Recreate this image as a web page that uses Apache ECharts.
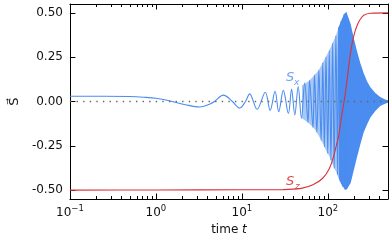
<!DOCTYPE html>
<html><head><meta charset="utf-8">
<script src="https://cdn.jsdelivr.net/npm/echarts@6/dist/echarts.min.js"></script>
<style>html,body{margin:0;padding:0;background:#fff}#c{width:390px;height:241px}</style>
</head><body><div id="c"></div>
<script>
// S_x: extrema / sample points
const sxT = [0.1,0.25,0.5,0.72,1.0,1.46,2.2,3.23,4.2,4.79,6.08,7.76,9.41,11.0,12.3,15.0,18.7,21.3,24.3,26.8,30.3,34.7,37.8,41.2,45.1,49.2,53.7,58.7,61.2,67.0,69.8,74.4,78.5,83.4,87.2,91.0,95.1,99.5,103.8,108.5,113.5,118.4,123.9,129.5,132.9,138.7,142.5,147.9,154.2,158.2,164.1,168.6];
const sxV = [0.030,0.030,0.028,0.024,0.018,0.003,-0.018,-0.031,-0.015,0.0,0.036,0.0,-0.037,0.0,0.043,-0.044,0.052,-0.050,0.058,-0.058,0.063,-0.068,0.070,-0.076,0.085,-0.094,0.104,-0.118,0.119,-0.146,0.150,-0.174,0.178,-0.220,0.219,-0.257,0.252,-0.294,0.289,-0.331,0.330,-0.378,0.372,-0.414,0.419,-0.452,0.456,-0.480,0.493,-0.498,0.502,-0.489];
// light fill between densely packed oscillations
const lightT  = [50,61,70,78.5,87,95,104,113.5,124,133];
const lightUp = [0.09,0.119,0.150,0.178,0.219,0.252,0.289,0.330,0.372,0.419];
const lightLo = [-0.095,-0.125,-0.155,-0.195,-0.235,-0.275,-0.31,-0.355,-0.395,-0.43];
// solid region (oscillations too dense to resolve)
const bandT  = [133,142.5,154,160,164,168.6,184,200.6,219,239,261,286,312,356,406,463,500];
const bandUp = [0.419,0.456,0.493,0.5,0.502,0.49,0.437,0.354,0.28,0.215,0.16,0.113,0.08,0.048,0.026,0.011,0.005];
const bandLo = [-0.43,-0.465,-0.49,-0.498,-0.498,-0.489,-0.46,-0.385,-0.31,-0.24,-0.174,-0.128,-0.09,-0.053,-0.026,-0.013,-0.006];
// S_z
const szT = [0.1,1,10,30,49,67,87,104,118,125,132.9,142.5,154.2,164,184,200,219,239,261,312,500];
const szV = [-0.5,-0.499,-0.498,-0.497,-0.49,-0.47,-0.433,-0.378,-0.30,-0.25,-0.20,-0.10,0.0,0.09,0.28,0.37,0.43,0.465,0.487,0.498,0.5];
const zeroT = [0.1,500];
const zeroV = [0,0];
// ticks
const xMajor = [0.1,1,10,100];
const xMinor = [0.2,0.3,0.4,0.5,0.6,0.7,0.8,0.9,2,3,4,5,6,7,8,9,20,30,40,50,60,70,80,90,200,300,400];
const yTicks = [-0.5,-0.25,0,0.25,0.5];
const X_MIN = 0.1, X_MAX = 500, Y_MIN = -0.55, Y_MAX = 0.55;

const FONT = '"DejaVu Sans", sans-serif';
const BLUE = '#4a8cef', LIGHT = '#a8c8f5', RED = '#d8323a';
const zip = (a,b) => a.map((v,i)=>[v,b[i]]);
const lg = v => Math.log10(v);

const chart = echarts.init(document.getElementById('c'), null, {renderer:'canvas'});
const decoX = (pos, vals, len, extra) => Object.assign({
  type:'value', position:pos, min:lg(X_MIN), max:lg(X_MAX),
  axisLine:{show:false, onZero:false}, splitLine:{show:false},
  axisTick:{show:true, inside:true, length:len, customValues:vals.map(lg), lineStyle:{color:'#000', width:1}},
  axisLabel:{show:false}
}, extra||{});

// filled envelope drawn through the axes' own scales
const bandSeries = (T, U, L, color, z) => ({
  type:'custom', coordinateSystem:'cartesian2d', xAxisIndex:0, yAxisIndex:0, silent:true, z:z,
  data: T.map((t,i)=>[t, U[i], L[i]]),
  encode:{x:0, y:[1,2]},
  renderItem:(params, api) => {
    if (params.dataIndex !== 0) return null;
    const pts = [];
    for (let i=0;i<T.length;i++) pts.push(api.coord([T[i], U[i]]));
    for (let i=T.length-1;i>=0;i--) pts.push(api.coord([T[i], L[i]]));
    return {type:'polygon', shape:{points:pts}, style:{fill:color, stroke:null}};
  }
});

const option = {
  animation:false,
  grid:{left:65, right:2, top:4, bottom:39, containLabel:false},
  xAxis:[
    {type:'log', logBase:10, min:X_MIN, max:X_MAX, show:false},
    decoX('bottom', xMajor, 5.5, {
      axisLine:{show:true, onZero:false, lineStyle:{color:'#000', width:1}},
      axisLabel:{show:true, margin:5, customValues:xMajor.map(lg),
        formatter: v => { const e = Math.round(v); return '{b|10}{e|' + (e<0?'\u2212':'') + Math.abs(e) + '}'; },
        rich:{ b:{fontSize:12, fontFamily:FONT, color:'#111', lineHeight:17},
               e:{fontSize:8.5, fontFamily:FONT, color:'#111', lineHeight:9, verticalAlign:'top'} } },
      name:'{a|time }{i|t}', nameLocation:'middle', nameGap:25,
      nameTextStyle:{rich:{a:{fontSize:12, fontFamily:FONT, color:'#111'}, i:{fontSize:12, fontFamily:FONT, fontStyle:'italic', color:'#111'}}}
    }),
    decoX('bottom', xMinor, 3),
    decoX('top', xMajor, 5.5, {axisLine:{show:true, onZero:false, lineStyle:{color:'#000', width:1}}}),
    decoX('top', xMinor, 3)
  ],
  yAxis:[
    {type:'value', position:'left', min:Y_MIN, max:Y_MAX,
     axisLine:{show:true, onZero:false, lineStyle:{color:'#000', width:1}}, splitLine:{show:false},
     axisTick:{show:true, inside:true, length:5.5, customValues:yTicks, lineStyle:{color:'#000'}},
     axisLabel:{show:true, margin:7, customValues:yTicks, formatter:v=>v.toFixed(2), fontSize:12, fontFamily:FONT, color:'#111'},
     name:'S\u20D7', nameLocation:'middle', nameGap:48, nameRotate:90,
     nameTextStyle:{fontSize:13, fontFamily:FONT, color:'#111'}},
    {type:'value', position:'right', min:Y_MIN, max:Y_MAX,
     axisLine:{show:true, onZero:false, lineStyle:{color:'#000', width:1}}, splitLine:{show:false},
     axisTick:{show:true, inside:true, length:5.5, customValues:yTicks, lineStyle:{color:'#000'}},
     axisLabel:{show:false}}
  ],
  series:[
    bandSeries(lightT, lightUp, lightLo, LIGHT, 1),
    bandSeries(bandT, bandUp, bandLo, BLUE, 2),
    {type:'line', data:zip(sxT, sxV), symbol:'none', smooth:0.35, lineStyle:{color:BLUE, width:1.1}, z:3},
    {type:'line', data:zip(zeroT, zeroV), symbol:'none', lineStyle:{color:'#666', width:1.4, type:[1.4,5.2]}, z:4},
    {type:'line', data:zip(szT, szV), symbol:'none', smooth:0.3, lineStyle:{color:RED, width:1.1}, z:5}
  ],
  graphic:[
    {type:'text', left:286, top:71, style:{text:'S', font:'italic 13px "DejaVu Sans"', fill:'#6ea4f2'}},
    {type:'text', left:294, top:78, style:{text:'x', font:'italic 9px "DejaVu Sans"', fill:'#6ea4f2'}},
    {type:'text', left:286, top:175, style:{text:'S', font:'italic 13px "DejaVu Sans"', fill:'#e04a50'}},
    {type:'text', left:295, top:182, style:{text:'z', font:'italic 9px "DejaVu Sans"', fill:'#e04a50'}}
  ]
};
chart.setOption(option);
</script></body></html>
